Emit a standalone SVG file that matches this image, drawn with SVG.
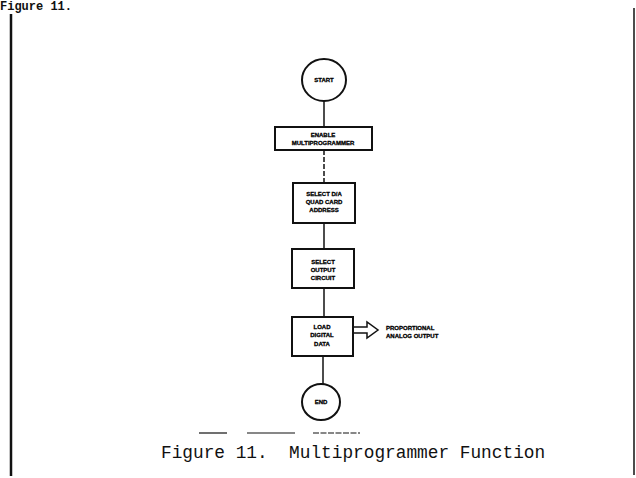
<svg xmlns="http://www.w3.org/2000/svg" width="636" height="478" viewBox="0 0 636 478">
<style>
.shape{fill:#fff;stroke:#111;stroke-width:2}
.conn{stroke:#111;stroke-width:1.5;fill:none}
.lbl{font-family:"Liberation Sans",Arial,sans-serif;font-weight:bold;font-size:6px;fill:#000;stroke:#000;stroke-width:0.3;text-anchor:middle}
.lbl-l{text-anchor:start}
.cap{font-family:"Liberation Mono","Courier New",monospace;fill:#111;white-space:pre}
</style>
<rect width="636" height="478" fill="#fff"/>
<text class="cap" x="0" y="10" font-size="12" font-weight="bold">Figure 11.</text>
<g id="frame">
<line x1="11" y1="14" x2="11" y2="476" stroke="#111" stroke-width="2.5"/>
<line x1="634" y1="8" x2="634" y2="475" stroke="#111" stroke-width="1.5"/>
</g>
<g id="connectors">
<line class="conn" x1="324" y1="101" x2="324" y2="127"/>
<line class="conn" x1="324" y1="150" x2="324" y2="183" stroke-dasharray="5 2"/>
<line class="conn" x1="324" y1="223" x2="324" y2="249"/>
<line class="conn" x1="324" y1="288" x2="324" y2="317"/>
<line class="conn" x1="323" y1="356" x2="323" y2="384"/>
<path class="conn" stroke-width="1.3" d="M353,327 H367 V322 L378,330 L367,338 V333 H353"/>
</g>
<g id="start">
<ellipse class="shape" cx="324" cy="80" rx="22" ry="21"/>
<text class="lbl" x="324" y="82">START</text>
</g>
<g id="enable">
<rect class="shape" x="275" y="127" width="97" height="23"/>
<text class="lbl" x="323" y="137">ENABLE</text>
<text class="lbl" x="323" y="145">MULTIPROGRAMMER</text>
</g>
<g id="select-card">
<rect class="shape" x="293" y="183" width="62" height="40"/>
<text class="lbl" x="324" y="196">SELECT D/A</text>
<text class="lbl" x="324" y="204">QUAD CARD</text>
<text class="lbl" x="324" y="212">ADDRESS</text>
</g>
<g id="select-output">
<rect class="shape" x="292" y="249" width="62" height="39"/>
<text class="lbl" x="323" y="264">SELECT</text>
<text class="lbl" x="323" y="272">OUTPUT</text>
<text class="lbl" x="323" y="280">CIRCUIT</text>
</g>
<g id="load">
<rect class="shape" x="292" y="317" width="61" height="39"/>
<text class="lbl" x="322" y="329">LOAD</text>
<text class="lbl" x="322" y="337">DIGITAL</text>
<text class="lbl" x="322" y="346">DATA</text>
</g>
<g id="analog-output">
<text class="lbl lbl-l" x="386" y="330">PROPORTIONAL</text>
<text class="lbl lbl-l" x="386" y="338">ANALOG OUTPUT</text>
</g>
<g id="end">
<ellipse class="shape" cx="321" cy="402" rx="19" ry="18"/>
<text class="lbl" x="321" y="404">END</text>
</g>
<g id="baseline" stroke="#111" stroke-width="1.2">
<line x1="199" y1="433" x2="227" y2="433"/>
<line x1="247" y1="433" x2="295" y2="433"/>
<line x1="313" y1="433" x2="360" y2="433" stroke-dasharray="6 1.5"/>
</g>
<text class="cap" x="161" y="458" font-size="17.8" xml:space="preserve">Figure 11.  Multiprogrammer Function</text>
</svg>
